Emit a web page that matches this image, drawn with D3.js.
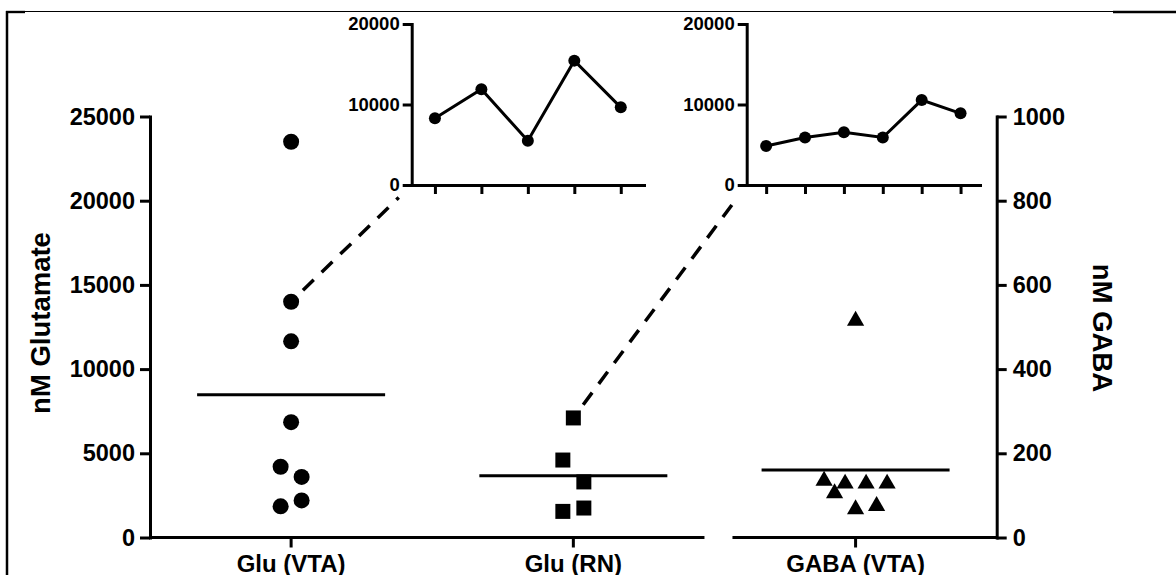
<!DOCTYPE html>
<html>
<head>
<meta charset="utf-8">
<script src="https://cdn.jsdelivr.net/npm/d3@7"></script>
<style>
  html, body { margin: 0; padding: 0; background: #fff; }
  svg { display: block; }
  text { font-family: "Liberation Sans", Arial, sans-serif; font-weight: bold; fill: #000; }
  .tick-main text { font-size: 23.5px; }
  .tick-inset text { font-size: 18.5px; }
  .cat-label { font-size: 24px; }
  .axis-title { font-size: 27.5px; }
</style>
</head>
<body>
<svg id="chart" width="1176" height="575"></svg>
<script>
// ---- data ----
const groups = ["Glu (VTA)", "Glu (RN)", "GABA (VTA)"];
const gluVTA = [23500, 14000, 11650, 6850, 4200, 3600, 1850, 2200];
const gluRN = [7100, 4600, 3300, 1550, 1750];
const gabaVTA = [515, 135, 128, 128, 128, 105, 67, 75];

const leftTicks = [0, 5000, 10000, 15000, 20000, 25000];
const rightTicks = [0, 200, 400, 600, 800, 1000];
const insetTicks = [0, 10000, 20000];

// time courses shown in the two small panels
const insetA = [8300, 11900, 5500, 15450, 9650];
const insetB = [4850, 5900, 6550, 5900, 10550, 8900];

// ---- layout ----
const svg = d3.select("#chart");
const W = 1176, H = 575;
const plotLeft = 150, plotRight = 996.7;
const plotBottom = 537.5, plotTop = 116.5;

const x = d3.scaleBand().domain(groups).range([plotLeft, plotRight]).padding(0);
const cx = g => x(g) + x.bandwidth() / 2;
const yL = d3.scaleLinear().domain([0, 25000]).range([plotBottom, plotTop]);
const yR = d3.scaleLinear().domain([0, 1000]).range([plotBottom, plotTop]);

// outer frame (left and top edges)
svg.append("line").attr("x1", 7).attr("x2", 7).attr("y1", 11).attr("y2", H)
  .attr("stroke", "#000").attr("stroke-width", 2.5);
svg.append("line").attr("x1", 7).attr("x2", W).attr("y1", 11.5).attr("y2", 11.5)
  .attr("stroke", "#000").attr("stroke-width", 1.2);
svg.append("line").attr("x1", 6).attr("x2", 25).attr("y1", 12).attr("y2", 12)
  .attr("stroke", "#000").attr("stroke-width", 2.4);
svg.append("line").attr("x1", 1113).attr("x2", W).attr("y1", 12).attr("y2", 12)
  .attr("stroke", "#000").attr("stroke-width", 2.4);

function styleAxis(g, cls) {
  g.attr("class", cls);
  g.selectAll("path.domain").attr("stroke", "#000").attr("stroke-width", 3).attr("stroke-linecap", "square");
  g.selectAll(".tick line").attr("stroke", "#000").attr("stroke-width", 3);
  g.selectAll(".tick text").attr("fill", "#000");
}

// left axis (glutamate)
svg.append("g").attr("transform", `translate(${plotLeft},0)`)
  .call(d3.axisLeft(yL).tickValues(leftTicks).tickSize(10).tickSizeOuter(0).tickPadding(5).tickFormat(d3.format("d")))
  .call(g => styleAxis(g, "tick-main"));

// right axis (GABA)
svg.append("g").attr("transform", `translate(${plotRight},0)`)
  .call(d3.axisRight(yR).tickValues(rightTicks).tickSize(10).tickSizeOuter(0).tickPadding(6).tickFormat(d3.format("d")))
  .call(g => styleAxis(g, "tick-main"));

// x baseline, broken before the GABA column
const gapAt = x(groups[2]);
const baseSegs = [[plotLeft, gapAt - 10], [gapAt + 18, plotRight]];
svg.append("g").selectAll("line").data(baseSegs).join("line")
  .attr("x1", d => d[0]).attr("x2", d => d[1])
  .attr("y1", yL(0)).attr("y2", yL(0))
  .attr("stroke", "#000").attr("stroke-width", 3);
svg.append("g").selectAll("line").data(groups).join("line")
  .attr("x1", d => cx(d)).attr("x2", d => cx(d))
  .attr("y1", yL(0)).attr("y2", yL(0) + 10)
  .attr("stroke", "#000").attr("stroke-width", 3);
svg.append("g").selectAll("text").data(groups).join("text")
  .attr("class", "cat-label")
  .attr("x", d => cx(d)).attr("y", 571.5)
  .attr("text-anchor", "middle")
  .text(d => d);

// axis titles
svg.append("text").attr("class", "axis-title")
  .attr("transform", "translate(40,323) rotate(-90)")
  .attr("text-anchor", "middle").attr("dominant-baseline", "central")
  .text("nM Glutamate");
svg.append("text").attr("class", "axis-title")
  .attr("transform", "translate(1102,328) rotate(90)")
  .attr("text-anchor", "middle").attr("dominant-baseline", "central")
  .text("nM GABA");

// column scatter: points falling in the same horizontal band sit side by side
function swarmOffsets(values, y, rowH, rowStart, gap) {
  const rows = new Map();
  values.forEach((v, i) => {
    const d = y(0) - y(v);
    const r = Math.floor((d - rowStart) / rowH);
    if (!rows.has(r)) rows.set(r, []);
    rows.get(r).push(i);
  });
  const off = new Array(values.length).fill(0);
  rows.forEach(idx => idx.forEach((i, k) => { off[i] = (k - (idx.length - 1) / 2) * gap; }));
  return off;
}

const columns = [
  { name: groups[0], values: gluVTA, y: yL, symbol: d3.symbolCircle, size: Math.PI * 8 * 8 },
  { name: groups[1], values: gluRN, y: yL, symbol: d3.symbolSquare, size: 15 * 15 },
  { name: groups[2], values: gabaVTA, y: yR, symbol: d3.symbolTriangle, size: 128 }
];

columns.forEach(col => {
  const offs = swarmOffsets(col.values, col.y, 28, 24, 21);
  const sym = d3.symbol().type(col.symbol).size(col.size);
  svg.append("g").selectAll("path").data(col.values).join("path")
    .attr("d", sym)
    .attr("transform", (v, i) => `translate(${cx(col.name) + offs[i]},${col.y(v)})`)
    .attr("fill", "#000");
  // mean bar
  const m = d3.mean(col.values);
  svg.append("line")
    .attr("x1", cx(col.name) - 94).attr("x2", cx(col.name) + 94)
    .attr("y1", col.y(m)).attr("y2", col.y(m))
    .attr("stroke", "#000").attr("stroke-width", 3);
});

// ---- inset time-course panels ----
const yInset = d3.scaleLinear().domain([0, 20000]).range([185, 24]);

function drawInset(values, x0, x1) {
  const xs = d3.scalePoint().domain(d3.range(values.length)).range([x0, x1]).padding(0.5);
  const g = svg.append("g");
  g.append("g").attr("transform", `translate(0,${yInset(0)})`)
    .call(d3.axisBottom(xs).tickSize(9).tickSizeOuter(0).tickFormat(""))
    .call(a => styleAxis(a, "tick-inset"));
  g.append("g").attr("transform", `translate(${x0},0)`)
    .call(d3.axisLeft(yInset).tickValues(insetTicks).tickSize(9).tickSizeOuter(0).tickPadding(3).tickFormat(d3.format("d")))
    .call(a => styleAxis(a, "tick-inset"));
  g.append("path").datum(values)
    .attr("d", d3.line().x((v, i) => xs(i)).y(v => yInset(v)))
    .attr("fill", "none").attr("stroke", "#000").attr("stroke-width", 3);
  g.selectAll("circle").data(values).join("circle")
    .attr("cx", (v, i) => xs(i)).attr("cy", v => yInset(v))
    .attr("r", 6).attr("fill", "#000");
  return { x: x0, y: yInset(0) };
}

const originA = drawInset(insetA, 411.7, 644);
const originB = drawInset(insetB, 746.7, 980);

// dashed connectors from a data point to an inset origin
function connector(px, py, target) {
  const dx = target.x - px, dy = target.y - py;
  const len = Math.hypot(dx, dy);
  const ux = dx / len, uy = dy / len;
  svg.append("line")
    .attr("x1", px + ux * 16.5).attr("y1", py + uy * 16.5)
    .attr("x2", target.x - ux * 18).attr("y2", target.y - uy * 18)
    .attr("stroke", "#000").attr("stroke-width", 3.5)
    .attr("stroke-dasharray", "15,11");
}
connector(cx(groups[0]), yL(gluVTA[1]), originA);
connector(cx(groups[1]), yL(gluRN[0]), originB);
</script>
</body>
</html>
